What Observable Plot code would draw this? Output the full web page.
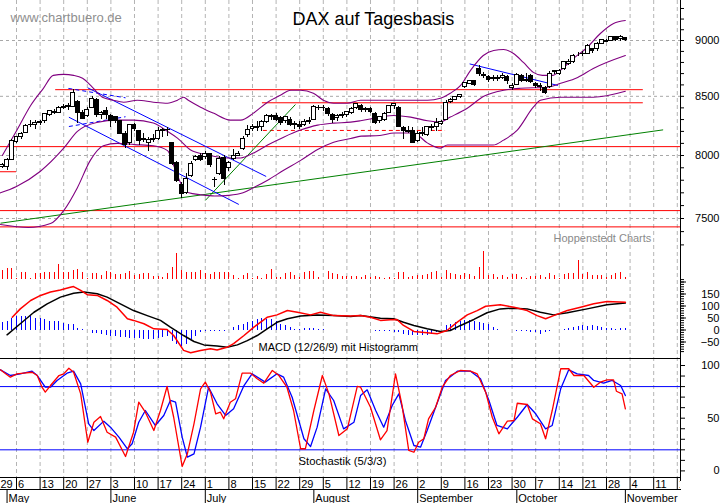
<!DOCTYPE html>
<html><head><meta charset="utf-8">
<script src="https://cdn.jsdelivr.net/npm/d3@7"></script>
<script src="https://cdn.jsdelivr.net/npm/@observablehq/plot@0.6"></script>
<style>
body{margin:0;background:#fff;}
#chart{position:relative;width:723px;height:503px;overflow:hidden;background:#fff;}
</style></head><body>
<div id="chart"></div>
<script>
// Weekday index d: 0 = Mon 29 Apr 2013, one slot per weekday
const open  = [7820,7850,7910,7905,7965,8110,8150,8185,8250,8255,8275,8285,8340,8365,8360,8400,8405,8410,8450,8360,8330,8400,8470,8340,8370,8330,8320,8290,8180,8100,8250,8200,8130,8100,8140,8140,8200,8210,8100,7940,7760,7700,7830,7960,8000,7990,8010,7800,7850,7980,7900,7970,8000,8050,8170,8220,8240,8240,8280,8330,8330,8310,8290,8300,8250,8250,8250,8290,8300,8400,8400,8390,8340,8310,8330,8340,8360,8400,8420,8380,8390,8350,8290,8300,8360,8420,8400,8230,8200,8200,8120,8190,8170,8230,8240,8260,8300,8450,8470,8490,8580,8610,8630,8740,8690,8670,8650,8660,8660,8670,8570,8600,8680,8630,8680,8610,8590,8570,8580,8710,8700,8740,8790,8800,8870,8880,8880,8920,8920,8970,8990,9000,9030,9010,9020];
const high  = [7880,7930,7935,7975,8135,8160,8190,8255,8290,8290,8290,8350,8380,8385,8410,8430,8440,8557,8460,8375,8400,8500,8480,8370,8400,8340,8330,8295,8200,8260,8270,8210,8180,8150,8170,8230,8225,8230,8110,7950,7780,7850,7950,8000,8020,8030,8020,7820,7990,8000,7950,8050,8030,8160,8250,8260,8280,8290,8340,8340,8350,8330,8330,8320,8280,8280,8300,8320,8420,8420,8420,8400,8350,8340,8360,8370,8400,8440,8430,8400,8400,8360,8330,8360,8420,8440,8410,8240,8240,8230,8200,8230,8240,8260,8310,8290,8460,8480,8500,8520,8620,8640,8640,8770,8710,8680,8680,8680,8700,8680,8610,8700,8690,8700,8690,8620,8610,8590,8720,8730,8740,8810,8830,8870,8890,8900,8960,8930,8980,9010,9010,9040,9040,9050,9030];
const low   = [7800,7840,7895,7880,7960,8100,8130,8180,8230,8215,8250,8270,8330,8340,8355,8385,8380,8405,8265,8300,8320,8395,8320,8300,8300,8230,8270,8170,8060,8080,8200,8080,8110,8030,8110,8120,8150,8160,7920,7780,7655,7690,7820,7950,7950,7970,7900,7740,7840,7760,7870,7960,7990,8040,8150,8200,8200,8200,8270,8290,8280,8250,8270,8240,8220,8220,8240,8260,8290,8380,8370,8330,8270,8280,8310,8320,8340,8390,8360,8360,8350,8260,8270,8280,8350,8390,8230,8130,8180,8100,8110,8160,8160,8200,8200,8250,8300,8440,8460,8480,8570,8600,8590,8670,8660,8620,8630,8630,8650,8600,8550,8600,8620,8620,8610,8570,8540,8520,8570,8690,8680,8730,8770,8790,8850,8850,8870,8880,8900,8960,8980,8990,8990,8990,8990];
const close = [7860,7910,7925,7960,8122,8150,8180,8249,8255,8275,8280,8345,8370,8360,8400,8410,8412,8530,8352,8305,8383,8480,8336,8355,8340,8286,8290,8180,8090,8254,8221,8120,8140,8130,8127,8200,8208,8215,7930,7790,7692,7810,7930,7990,7960,8011,7920,7805,7970,7806,7940,8000,8010,8140,8213,8234,8230,8280,8331,8325,8300,8270,8320,8250,8260,8240,8280,8276,8410,8395,8398,8350,8300,8330,8337,8365,8392,8432,8380,8390,8365,8275,8320,8350,8416,8430,8241,8200,8195,8103,8180,8180,8234,8237,8275,8276,8446,8468,8495,8510,8613,8636,8600,8694,8675,8640,8665,8655,8680,8630,8594,8689,8630,8640,8622,8591,8580,8533,8700,8725,8723,8805,8806,8862,8870,8876,8948,8903,8970,9001,8996,9033,9009,9033,9006];
const volume = [90,100,93,110,117,10,70,70,10,60,60,77,70,77,153,70,77,93,103,77,10,60,60,43,83,70,50,50,67,83,43,50,60,60,37,33,27,60,127,267,93,77,77,77,93,60,50,77,77,70,70,43,17,43,60,17,33,17,50,103,27,27,60,70,43,27,77,83,83,27,3,83,60,50,37,37,37,33,27,43,27,37,27,17,27,10,70,70,27,37,43,43,50,70,83,27,93,60,50,43,60,50,37,127,283,43,50,27,43,27,50,50,27,10,37,37,43,27,60,43,10,50,60,60,193,50,77,43,43,43,27,43,60,77,27];

const upperBandDays = [2,5.1,8,10.7,12.8,15,17.1,19,21.1,23.2,25.5,27.7,30.6,34,37,39.1,40.4,41.4,44,46.7,50.3,52.5,55.2,58.2,60.9,63.1,65.2,67.9,70,72.2,75.1,77.9,84.2,92.1,94.8,96.9,99.1,101.2,103.9,106.1,108.2,110.3,112.4,114.5,116.4,118.6,120.2,123,125.9,128.7,131.5,134];
const upperBand     = [8000,8211,8420,8570,8684,8693,8684,8658,8579,8492,8466,8449,8466,8449,8440,8466,8492,8466,8406,8355,8295,8295,8355,8449,8509,8553,8553,8527,8466,8440,8440,8466,8466,8466,8483,8527,8596,8729,8863,8909,8918,8881,8800,8711,8684,8684,8729,8836,8936,9065,9158,9186];
const middleBandDays = [1.6,5,10,15,17.9,22,26.4,29.8,34,37,39.1,41.9,45.5,49.7,52.5,55.2,58.2,61.6,65.2,68.8,72.2,75.8,77.9,82.1,84.9,88.5,92.1,94.8,96.9,100.5,104,108.2,111.8,117.5,120.3,123.9,127.2,134];
const middleBand     = [7700,7750,7870,8060,8200,8275,8295,8295,8270,8200,8144,8045,8004,7980,7980,8020,8086,8152,8211,8253,8270,8278,8290,8321,8335,8321,8290,8280,8321,8397,8500,8553,8570,8579,8614,8666,8746,8863];
const lowerBandDays = [1.6,7.5,12.2,15,17.9,20.7,23.4,26.4,30,34,37,38.5,40,41.5,44,47,50,53,55.2,58.2,61.6,65.2,68.8,72.2,75.8,78,82,85,89.1,92.1,94.8,96.3,100,106,108.2,111.1,114.5,116,120.3,127.2,134];
const lowerBand     = [7454,7431,7461,7561,7741,7964,8080,8100,8090,8080,8040,7900,7760,7700,7685,7675,7680,7700,7740,7800,7880,7960,8050,8110,8140,8160,8165,8186,8186,8102,8061,8086,8086,8086,8127,8211,8406,8466,8492,8492,8544];

const macdDays = [4.1,5.8,8,10.1,12.2,14.3,16.4,17.1,18.6,20,22.1,24.2,26.3,28.5,29.8,32,34.1,36.9,38.3,40.4,41.9,44,46.1,47.5,49.6,51,53.2,55.3,58.1,60.2,62.4,64.5,67.3,69.4,72.2,75.8,77.9,80,82.1,84.2,85.6,87,89.2,92,94.1,96.2,98.4,100.5,102.6,104.4,107.5,110.4,113.2,115.3,117.1,118.8,121.7,124.5,127.3,130.1,134];
const macdLine = [53,88,123,144,158,167,178,181,165,147,144,123,95,47,40,26,5,2,-23,-85,-95,-85,-78,-83,-72,-57,-23,12,53,63,81,74,63,74,60,58,60,53,40,43,44,19,-6,-11,-16,-2,33,63,81,99,105,95,81,60,47,60,81,95,109,119,116];
const signalDays = [3,5.8,8.7,11.5,14.3,17.1,19.3,22.1,24.2,27,29.8,32.7,35.5,37.6,40.4,42.6,44.7,47.5,49.6,51.8,53.9,56,58.1,60.2,62.4,65.2,68.7,72.2,75.8,77.9,82.1,84.9,87,89.2,92,94.8,96.9,99.1,101.9,104.7,107.5,110.4,113.2,116,118.8,121.7,125.9,130.1,134];
const signalLine = [-20,26,74,109,137,153,158,151,137,109,81,60,40,12,-23,-48,-62,-67,-72,-62,-44,-23,5,32,47,58,63,60,56,60,49,47,32,19,5,-6,-2,19,44,72,88,91,88,74,63,72,88,105,113];
const histFirstDay = 2;
const histogram = [30,35,49,58,58,56,58,49,49,44, 35,35,35,28,21,25,7,2,-4,-14, -14,-17,-21,-25,-28,-30,-33,-35,-36,-37, -38,-39,-39,-36,-32,-25,-46,-60,-67,-60, -39,-25,-11,-8,-8,-8,-8,-8,-2,10, 17,24,31,37,44,47,44,44,37,24, 17,10,4,2,6,6,6,3,3,0, -4,-4,-4,-4,-2,-2,-2,-4,-4,-7, -7,-7,-7,-10,-12,-17,-21,-24,-24,-24, -21,-17,-12,-4,18,25,32,35,39,39, 35,32,28,21,11,4,0,-2,-4,-7, -7,-7,-10,-12,-17,-12,-7,-4,0,4, 7,11,15,18,15,18,15,11,7,7, 4,7,7];

const stochKDays = [1.6,2.7,3.7,5.1,6.5,8.3,9.4,10.4,11.1,12.2,14,15,16.1,17.1,18.6,20.1,21.4,22.8,24.2,26,28.1,29.8,30.9,32.3,34.1,35.5,36.9,38.3,40.1,41.2,42.6,44,45,46.1,47.2,48.2,48.9,50.3,51.4,52.8,54.6,56,57.4,59.2,60.6,62.3,63.7,65.2,66.2,68,69.8,71.2,73.3,75.1,77.2,77.9,80,82.1,83.5,85.3,86.7,88.1,89.2,90.2,91.3,92.3,93.8,95.2,96.9,99.1,101.2,102.6,104.4,105.8,107.2,109,110.4,111.1,113.2,114.3,116,117.1,118.5,120.3,122,123.1,125.2,127.3,128.7,130.1,131.5,132.1,133.3,134];
const stochK = [95.9,92.1,88.9,92.1,92.7,93.6,90.5,79.4,74.7,81,90.5,92.1,97.4,93.6,73.1,27.2,46.2,51.6,36.7,32,13.7,36.7,65.2,55.7,38.3,57.3,80.1,50.9,4.2,16.2,44.7,77.9,84.2,74.7,54.2,55.7,49.4,65.2,68.4,92.7,92.7,87.4,83.2,95.3,90.5,79.4,57.3,21,21,57.3,90.5,73.1,33.6,39.9,80.1,79.4,60.4,29.5,38.3,92.1,62,19.4,17.7,27.2,30.5,49.4,60.4,79.4,90.5,95.3,94.6,92.1,74.7,50.9,35.2,47.2,47.8,64.2,63,49.4,44.7,30.5,57.3,96.9,96.9,90.5,90.5,79.4,84.2,86.4,86.4,75.6,73.1,58.9];
const stochDDays = [1.6,3.7,5.8,8.3,9.4,11.1,12.2,13.6,15.7,17.1,18.6,20.3,21.4,23.5,24.9,26.7,28.5,29.5,30.9,32.3,34.4,36.2,37.6,38.7,40.1,41.2,42.6,44,45.7,47.5,49.3,51,53.2,54.9,57.7,60.2,61.6,63.4,65.9,67.3,68.7,70.5,72.2,74.3,76.5,77.9,79.3,81.1,82.8,84.6,86,87.4,89.2,90.6,92,93.8,95.9,98.4,101.2,103.3,105.1,106.8,109,111.1,113.2,115,117.1,118.5,120.3,122,123.8,126.2,127.3,129.4,131.2,133,134];
const stochD = [95.9,90.5,92.1,94.6,90.5,79.4,79.4,85.8,92.7,94.6,82.6,44.7,38.3,47.2,41.5,32,21,25.7,46.2,57.3,43.1,52.6,66.8,65.2,32,13,16.2,41.5,79.4,63.7,52.6,58.9,81,92.1,84.2,92.1,88.9,69.9,30.5,23.1,41.5,77.9,66.8,39.9,46.2,71.5,76.9,57.3,41.5,62,73.1,47.8,24.1,22.5,38.3,60.4,85.8,94.6,94.6,87.4,66.8,43.1,39.9,50.9,63,54.2,39.9,43.1,77.9,95.9,92.1,90.5,85.8,83.2,85.8,81,71.5];

// Horizontal levels and trend lines (weekday index, DAX points)
const redLevelsFull = [8073, 7561, 7436];
const redSegments = [{p:8558, from:13.3, to:137.8}, {p:8444, from:57.1, to:137.8}, {p:7868, from:1.6, to:5}];
const redDashedSegments = [{p:8208, from:57.3, to:95.9}];
const blueTrends = [{d1:20.1,p1:8574,d2:57.9,p2:7830},{d1:16.1,p1:8320,d2:52.1,p2:7609},{d1:101,p1:8787,d2:119.7,p2:8595}];
const blueDashedTrends = [{d1:16.0,p1:8569,d2:28.1,p2:8487},{d1:16.1,p1:8241,d2:28.1,p2:8324}];
const greenTrends = [{d1:1.61,p1:7464,d2:142,p2:8213},{d1:45,p1:7640,d2:64.1,p2:8429}];

const priceGridLevels = [7500, 8000, 8500, 9000];
const priceTicks = d3.range(7300, 9301, 100);
const priceTickLabels = ["7500", "8000", "8500", "9000"];
const macdTickLabels = [-50, 0, 50, 100, 150];
const stochTickLabels = [0, 50, 100];
const stochLevels = [20, 80];
const weekLabels = ["29","6","13","20","27","3","10","17","24","1","8","15","22","29","5","12","19","26","2","9","16","23","30","7","14","21","28","4","11","18"];
const monthLabels = ["May","June","July","August","September","October","November"];
const monthStartDays = [3, 25, 45, 68, 90, 111, 134];

// ---------- layout ----------
const W = 723, H = 503, MR = 43;
const xDomain = [1.61, 145.68];
const tickLen = 0.85; // in weekday units, about 4 px
const FONT = "Arial, 'Liberation Sans', Helvetica, sans-serif";
const style = {position:"absolute", left:"0px", top:"0px", background:"transparent", overflow:"visible", fontFamily: FONT, fontSize:"11px"};
const chart = document.getElementById("chart");
function panel(top, bottom, y, marks) {
  const svg = Plot.plot({width: W, height: H, marginLeft: 0, marginRight: MR, marginTop: top, marginBottom: H - bottom,
    x: {domain: xDomain, axis: null}, y, style, marks});
  chart.appendChild(svg);
}
const pts = (ds, vs) => ds.map((d, i) => ({d, v: vs[i]}));
const candles = close.map((c, i) => ({d: i, o: open[i], h: high[i], l: low[i], c}));
const vols = volume.map((v, i) => ({d: i, v}));
const hist = histogram.map((v, i) => ({d: histFirstDay + i, v}));
const weeks = weekLabels.map((t, i) => ({d: i * 5, t}));
const months = monthLabels.map((t, i) => ({d: monthStartDays[i], t}));

// vertical dashed week grid
panel(0, 477, {axis: null}, [
  Plot.ruleX(weeks, {x: "d", stroke: "#b4b4b4", strokeDasharray: "4,3"})
]);

// price panel (log scale)
panel(0, 252, {type: "log", domain: [7243.4, 9376.5], axis: null}, [
  Plot.ruleY(priceGridLevels, {stroke: "#a8a8a8", strokeDasharray: "3,3"}),
  Plot.ruleY(redLevelsFull, {stroke: "#ff0000"}),
  Plot.ruleY(redSegments, {y: "p", x1: "from", x2: "to", stroke: "#ff0000", clip: true}),
  Plot.ruleY(redDashedSegments, {y: "p", x1: "from", x2: "to", stroke: "#ff0000", strokeDasharray: "4,3"}),
  Plot.link(greenTrends, {x1: "d1", y1: "p1", x2: "d2", y2: "p2", stroke: "#008000", clip: true}),
  Plot.link(blueTrends, {x1: "d1", y1: "p1", x2: "d2", y2: "p2", stroke: "#0000ff", clip: true}),
  Plot.link(blueDashedTrends, {x1: "d1", y1: "p1", x2: "d2", y2: "p2", stroke: "#0000ff", strokeDasharray: "4,3", clip: true}),
  Plot.line(pts(upperBandDays, upperBand), {x: "d", y: "v", stroke: "#800080", strokeWidth: 1.1, curve: "monotone-x", clip: true}),
  Plot.line(pts(middleBandDays, middleBand), {x: "d", y: "v", stroke: "#800080", strokeWidth: 1.1, curve: "monotone-x", clip: true}),
  Plot.line(pts(lowerBandDays, lowerBand), {x: "d", y: "v", stroke: "#800080", strokeWidth: 1.1, curve: "monotone-x", clip: true}),
  Plot.ruleX(candles, {x: "d", y1: "l", y2: "h", stroke: "black", clip: true, shapeRendering: "crispEdges"}),
  Plot.rect(candles.filter(k => k.c >= k.o), {x1: k => k.d - 0.42, x2: k => k.d + 0.42, y1: "o", y2: "c", fill: "white", stroke: "black", clip: true, shapeRendering: "crispEdges"}),
  Plot.rect(candles.filter(k => k.c < k.o), {x1: k => k.d - 0.42, x2: k => k.d + 0.42, y1: "o", y2: "c", fill: "black", stroke: "black", clip: true, shapeRendering: "crispEdges"}),
  Plot.ruleY(priceTicks, {y: d => d, x1: xDomain[1], x2: xDomain[1] + tickLen, stroke: "black"}),
  Plot.text(priceTickLabels, {y: d => +d, text: d => d, frameAnchor: "right", dx: 39, textAnchor: "end", lineAnchor: "middle", fontSize: 11, fill: "black"})
]);

// volume
panel(249.3, 279.3, {domain: [0, 300], axis: null}, [
  Plot.ruleX(vols, {x: "d", y1: 0, y2: "v", stroke: "#ff0000", clip: true, shapeRendering: "crispEdges"})
]);

// MACD
panel(278, 356, {domain: [-110.4, 214.6]}, [
  Plot.ruleX(hist, {x: "d", y1: 0, y2: "v", stroke: "#0000ff", clip: true, shapeRendering: "crispEdges"}),
  Plot.line(pts(signalDays, signalLine), {x: "d", y: "v", stroke: "black", clip: true}),
  Plot.line(pts(macdDays, macdLine), {x: "d", y: "v", stroke: "#ff0000", clip: true}),
  Plot.axisY(d3.range(-90, 211, 10), {anchor: "right", tickSize: 3, tickFormat: () => "", label: null}),
  Plot.axisY(d3.range(-50, 201, 50), {anchor: "right", tickSize: 5, tickFormat: () => "", label: null}),
  Plot.axisY(macdTickLabels, {anchor: "right", tickSize: 0, tickPadding: 39, textAnchor: "end", label: null, fontSize: 11})
]);

// separator MACD / Stochastik
panel(358, 365, {axis: null}, [Plot.frame({anchor: "top", stroke: "black"})]);

// Stochastik
panel(365, 470.4, {domain: [0, 100]}, [
  Plot.ruleY(stochLevels, {stroke: "#0000ff"}),
  Plot.line(pts(stochDDays, stochD), {x: "d", y: "v", stroke: "#0000ff", strokeWidth: 1.3, clip: true}),
  Plot.line(pts(stochKDays, stochK), {x: "d", y: "v", stroke: "#ff0000", strokeWidth: 1.3, clip: true}),
  Plot.axisY(d3.range(0, 101, 10), {anchor: "right", tickSize: 4, tickFormat: () => "", label: null}),
  Plot.axisY(stochTickLabels, {anchor: "right", tickSize: 0, tickPadding: 39, textAnchor: "end", label: null, fontSize: 11})
]);

// right axis line
panel(0, 480, {axis: null}, [Plot.frame({anchor: "right", stroke: "black"})]);

// week row
panel(477, 489, {axis: null}, [
  Plot.frame({anchor: "top", stroke: "black"}),
  Plot.frame({anchor: "bottom", stroke: "black"}),
  Plot.ruleX(weeks, {x: "d", stroke: "black", clip: true}),
  Plot.text(weeks.slice(1), {x: "d", text: "t", frameAnchor: "bottom", lineAnchor: "bottom", textAnchor: "start", dx: 1.5, dy: -1.5, fontSize: 11, fill: "black", clip: true}),
  Plot.text(weeks.slice(0, 1), {text: "t", frameAnchor: "bottom-left", lineAnchor: "bottom", textAnchor: "start", dx: 0, dy: -1.5, fontSize: 11, fill: "black"})
]);

// month row
panel(489, 503, {axis: null}, [
  Plot.ruleX(months, {x: "d", stroke: "black", clip: true}),
  Plot.text(months, {x: "d", text: "t", frameAnchor: "bottom", lineAnchor: "bottom", textAnchor: "start", dx: 1.5, dy: -2, fontSize: 11, fill: "black", clip: true})
]);

// titles & notes
chart.appendChild(Plot.plot({width: W, height: H, margin: 0, style, marks: [
  Plot.text([{t: "www.chartbuero.de"}], {text: "t", frameAnchor: "top-left", dx: 10, dy: 21.5, lineAnchor: "bottom", textAnchor: "start", fontSize: 13, fill: "#8f8f8f"}),
  Plot.text([{t: "DAX auf Tagesbasis"}], {text: "t", frameAnchor: "top-left", dx: 292, dy: 24, lineAnchor: "bottom", textAnchor: "start", fontSize: 18, fill: "black"}),
  Plot.text([{t: "Hoppenstedt Charts"}], {text: "t", frameAnchor: "top-left", dx: 553, dy: 241.5, lineAnchor: "bottom", textAnchor: "start", fontSize: 11, fill: "#8a8a8a"}),
  Plot.text([{t: "MACD (12/26/9) mit Histogramm"}], {text: "t", frameAnchor: "top-left", dx: 258, dy: 350, lineAnchor: "bottom", textAnchor: "start", fontSize: 11, fill: "black"}),
  Plot.text([{t: "Stochastik (5/3/3)"}], {text: "t", frameAnchor: "top-left", dx: 298, dy: 464, lineAnchor: "bottom", textAnchor: "start", fontSize: 11.3, fill: "black"})
]}));
</script>
</body></html>
